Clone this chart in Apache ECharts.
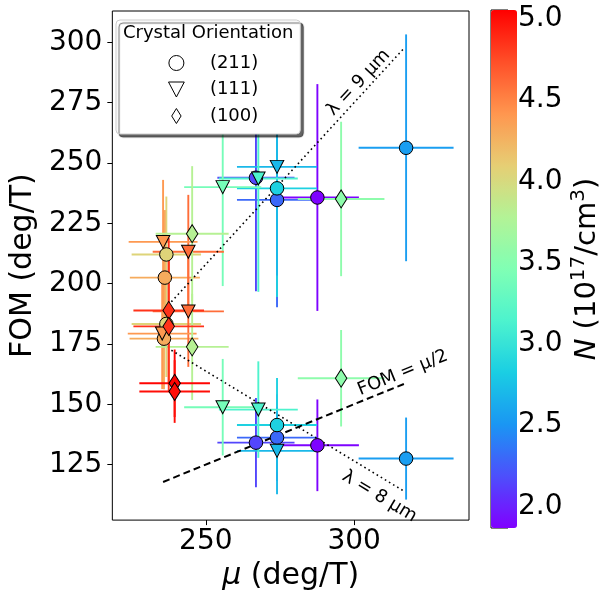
<!DOCTYPE html>
<html>
<head>
<meta charset="utf-8">
<script src="https://cdn.jsdelivr.net/npm/echarts@6/dist/echarts.min.js"></script>
<style>
  html, body { margin: 0; padding: 0; background: #fff; }
  #chart { width: 606px; height: 596px; }
</style>
</head>
<body>
<div id="chart"></div>
<script>
// (211) 圆点
var mu211     = [317.5, 317.5, 287.6, 287.6, 266.9, 266.9, 274.0, 274.0, 274.0, 274.0, 236.7, 236.7, 236.2, 235.9];
var fom211    = [256.3, 127.5, 235.7, 133.0, 243.9, 134.1, 234.7, 136.2, 239.5, 141.4, 212.1, 183.3, 202.5, 177.2];
var muErr211  = [16, 16, 14, 14, 13, 13, 13.5, 13.5, 13.5, 13.5, 11.7, 11.7, 11.8, 11.6];
var fomErr211 = [47, 17, 47, 19, 47, 18.5, 44.5, 18, 45, 19.5, 24, 22, 28, 21];
var n211      = [2.55, 2.55, 1.88, 1.88, 2.15, 2.15, 2.3, 2.3, 2.85, 2.85, 4.05, 4.05, 4.3, 4.3];

// (111) 倒三角
var mu111     = [274.0, 274.0, 267.7, 267.7, 255.7, 255.7, 244.1, 244.1, 235.6, 235.3];
var fom111    = [248.4, 130.7, 243.6, 147.8, 240.0, 148.8, 213.2, 188.5, 217.3, 179.3];
var muErr111  = [13.5, 13.5, 13.3, 13.3, 13, 13, 12, 12, 11.6, 11.6];
var fomErr111 = [45, 18, 47, 20, 41, 20, 23.6, 23, 25.7, 23];
var n111      = [2.7, 2.7, 3.15, 3.15, 3.4, 3.4, 4.6, 4.6, 4.4, 4.4];

// (100) 菱形
var mu100     = [295.6, 295.6, 245.4, 245.4, 237.5, 237.5, 239.5, 239.5];
var fom100    = [235.1, 160.8, 220.7, 173.8, 188.9, 182.3, 158.7, 155.3];
var muErr100  = [14.6, 14.6, 12.3, 12.3, 11.9, 11.9, 11.9, 11.9];
var fomErr100 = [32, 20, 28, 22, 30, 27, 14, 13];
var n100      = [3.55, 3.55, 3.8, 3.8, 4.85, 4.85, 5.04, 5.0];

// 参考线
var lambda9Mu = [237.3, 316.9], lambda9Fom = [191.0, 297.7];
var lambda8Mu = [238.4, 316.9], lambda8Fom = [172.4, 113.9];
var halfMu    = [235.6, 317.5], halfFom    = [117.8, 158.8];

// 参考线上的文字：位置(数据坐标)和角度
var notes = [
  { text: 'λ = 9 μm',  mu: 301.5, fom: 283.3, angle: 47 },
  { text: 'λ = 8 μm',  mu: 308.5, fom: 111.8, angle: -31 },
  { text: 'FOM = μ/2', mu: 316.4, fom: 163.0, angle: 22 }
];

// 刻度
var xTicks = [250, 300];
var yTicks = [125, 150, 175, 200, 225, 250, 275, 300];
var nTicks = [2.0, 2.5, 3.0, 3.5, 4.0, 4.5, 5.0];
var nMin = 1.867, nMax = 5.055;

// rainbow 色带
var rainbow = ['#8000ff', '#4d4ffc', '#1a96f3', '#1acee3', '#4df3ce', '#80ffb4',
               '#b3f396', '#e6ce74', '#ff964f', '#ff4f28', '#ff0000'];

var FONT = 'DejaVu Sans';

function rows(mu, fom, n, me, fe) {
  var d = [];
  for (var i = 0; i < mu.length; i++) {
    d.push([mu[i], fom[i], n[i], me[i], fe[i]]);
  }
  return d;
}
function pairs(a, b) {
  var d = [];
  for (var i = 0; i < a.length; i++) d.push([a[i], b[i]]);
  return d;
}

var d211 = rows(mu211, fom211, n211, muErr211, fomErr211);
var d111 = rows(mu111, fom111, n111, muErr111, fomErr111);
var d100 = rows(mu100, fom100, n100, muErr100, fomErr100);
var errData = d211.concat(d111, d100);

// 误差棒
function renderErr(params, api) {
  var x = api.value(0), y = api.value(1), xe = api.value(3), ye = api.value(4);
  var l = api.coord([x - xe, y]), r = api.coord([x + xe, y]);
  var t = api.coord([x, y + ye]), b = api.coord([x, y - ye]);
  var style = { stroke: api.visual('color'), lineWidth: 1.9 };
  return {
    type: 'group',
    children: [
      { type: 'line', shape: { x1: l[0], y1: l[1], x2: r[0], y2: r[1] }, style: style },
      { type: 'line', shape: { x1: t[0], y1: t[1], x2: b[0], y2: b[1] }, style: style }
    ]
  };
}

var chart = echarts.init(document.getElementById('chart'));

var tickLabel = { fontSize: 28, color: '#000', fontFamily: FONT };
var hollow = { color: '#fff', borderColor: '#000', borderWidth: 1 };

var option = {
  backgroundColor: '#fff',
  animation: false,
  grid: [
    { left: 107, top: 11, width: 362, height: 515, show: true, borderColor: '#000', borderWidth: 1 },
    { left: 491, top: 10, width: 26, height: 518, show: true, borderColor: '#000', borderWidth: 1 }
  ],
  xAxis: [{
    type: 'value', gridIndex: 0, min: 218.5, max: 338.7,
    axisLine: { show: false },
    splitLine: { show: false },
    axisTick: { show: true, inside: false, length: 5, customValues: xTicks, lineStyle: { color: '#000' } },
    axisLabel: Object.assign({ margin: 8, customValues: xTicks }, tickLabel),
    name: '{i|μ} (deg/T)', nameLocation: 'middle', nameGap: 30,
    nameTextStyle: { fontSize: 30, color: '#000', fontFamily: FONT,
      rich: { i: { fontSize: 30, fontStyle: 'italic', fontFamily: FONT } } }
  }, {
    type: 'value', gridIndex: 1, show: false, min: 0, max: 1
  }],
  yAxis: [{
    type: 'value', gridIndex: 0, min: 102, max: 313,
    axisLine: { show: false },
    splitLine: { show: false },
    axisTick: { show: true, inside: false, length: 5, customValues: yTicks, lineStyle: { color: '#000' } },
    axisLabel: Object.assign({ margin: 10, customValues: yTicks }, tickLabel),
    name: 'FOM (deg/T)', nameLocation: 'middle', nameGap: 60, nameRotate: 90,
    nameTextStyle: { fontSize: 30, color: '#000', fontFamily: FONT }
  }, {
    type: 'value', gridIndex: 1, position: 'right', min: nMin, max: nMax,
    axisLine: { show: false },
    splitLine: { show: false },
    axisTick: { show: true, inside: false, length: 5, customValues: nTicks, lineStyle: { color: '#000' } },
    axisLabel: Object.assign({ margin: 10, customValues: nTicks,
      formatter: function (v) { return v.toFixed(1); } }, tickLabel),
    name: '{i|N} (10{s|17}/cm{s|3})', nameLocation: 'middle', nameGap: 61, nameRotate: 90,
    nameTextStyle: { fontSize: 29, color: '#000', fontFamily: FONT, lineHeight: 36,
      rich: {
        i: { fontSize: 29, fontStyle: 'italic', fontFamily: FONT, lineHeight: 36 },
        s: { fontSize: 20, fontFamily: FONT, verticalAlign: 'top', lineHeight: 20 }
      } }
  }],
  visualMap: {
    type: 'continuous', min: nMin, max: nMax, dimension: 2,
    seriesIndex: [0, 1, 2, 3],
    inRange: { color: rainbow },
    calculable: false, padding: 0,
    left: 491, top: 10, itemWidth: 26, itemHeight: 518
  },
  legend: {
    orient: 'vertical', left: 116, top: 20,
    padding: [34, 42, 9, 52],
    itemWidth: 57, itemHeight: 15, itemGap: 8.5,
    backgroundColor: '#fff', borderColor: '#cccccc', borderWidth: 1, borderRadius: 4,
    shadowColor: 'rgba(0,0,0,0.6)', shadowBlur: 1, shadowOffsetX: 3, shadowOffsetY: 3,
    textStyle: { fontSize: 18, color: '#000', fontFamily: FONT },
    selectedMode: false,
    data: [
      { name: '(211)', icon: 'circle', itemStyle: hollow },
      { name: '(111)', icon: 'path://M0,0 L10,0 L5,9.5 Z', itemStyle: hollow },
      { name: '(100)', icon: 'path://M5,0 L10,8 L5,16 L0,8 Z', itemStyle: hollow }
    ]
  },
  series: [
    { type: 'custom', name: 'err', renderItem: renderErr, data: errData, z: 2, silent: true,
      encode: { x: 0, y: 1 } },
    { type: 'scatter', name: '(211)', data: d211, symbol: 'circle', symbolSize: 13.5, z: 4,
      itemStyle: { borderColor: '#000', borderWidth: 1, opacity: 1 } },
    { type: 'scatter', name: '(111)', data: d111, symbol: 'triangle', symbolRotate: 180, symbolSize: [13.5, 13], z: 4,
      itemStyle: { borderColor: '#000', borderWidth: 1, opacity: 1 } },
    { type: 'scatter', name: '(100)', data: d100, symbol: 'diamond', symbolSize: [11.5, 18], z: 4,
      itemStyle: { borderColor: '#000', borderWidth: 1, opacity: 1 } },
    { type: 'line', name: 'l9', data: pairs(lambda9Mu, lambda9Fom), showSymbol: false, silent: true, z: 3,
      lineStyle: { color: '#000', width: 1.6, type: [1.6, 3.2] } },
    { type: 'line', name: 'l8', data: pairs(lambda8Mu, lambda8Fom), showSymbol: false, silent: true, z: 3,
      lineStyle: { color: '#000', width: 1.6, type: [1.6, 3.2] } },
    { type: 'line', name: 'half', data: pairs(halfMu, halfFom), showSymbol: false, silent: true, z: 3,
      lineStyle: { color: '#000', width: 2, type: [7, 4] } }
  ]
};

chart.setOption(option);

// 图例标题 + 参考线文字
var gfx = [{
  type: 'text', z: 100, left: 123, top: 24,
  style: { text: 'Crystal Orientation', fontSize: 18, fill: '#000', fontFamily: FONT }
}];
notes.forEach(function (n) {
  var p = chart.convertToPixel({ gridIndex: 0 }, [n.mu, n.fom]);
  gfx.push({
    type: 'text', z: 50, x: p[0], y: p[1], rotation: n.angle * Math.PI / 180,
    style: { text: n.text, fontSize: 18, fill: '#000', fontFamily: FONT,
      align: 'center', verticalAlign: 'middle' }
  });
});
chart.setOption({ graphic: gfx });
</script>
</body>
</html>
